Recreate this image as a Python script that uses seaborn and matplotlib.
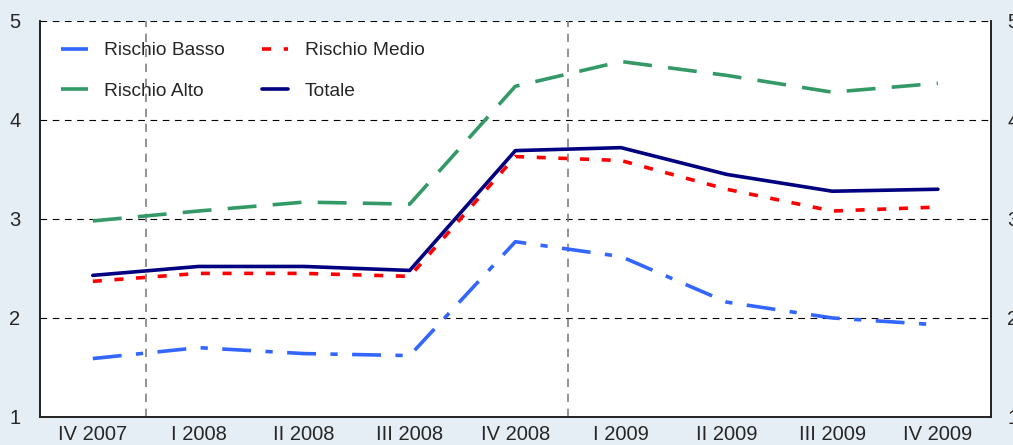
import numpy as np
import pandas as pd
import matplotlib
matplotlib.use("Agg")
import matplotlib.pyplot as plt
import seaborn as sns

# Dati
trimestri = ["IV 2007", "I 2008", "II 2008", "III 2008", "IV 2008",
             "I 2009", "II 2009", "III 2009", "IV 2009"]
rischio_basso = [1.59, 1.70, 1.64, 1.62, 2.77, 2.62, 2.16, 2.00, 1.93]
rischio_medio = [2.37, 2.45, 2.45, 2.42, 3.63, 3.59, 3.30, 3.08, 3.12]
rischio_alto = [2.98, 3.08, 3.17, 3.15, 4.34, 4.59, 4.45, 4.28, 4.37]
totale = [2.43, 2.52, 2.52, 2.48, 3.69, 3.72, 3.45, 3.28, 3.30]

sns.set_style("white")
plt.rcParams['font.family'] = ['Liberation Sans', 'DejaVu Sans']

bg = "#E6EEF5"
fig = plt.figure(figsize=(10.13, 4.45), dpi=100, facecolor=bg)
ax = fig.add_axes([0.0395, 0.063, 0.9385, 0.89])
ax.set_facecolor("white")

x = np.arange(len(trimestri))
serie = [
    ("Rischio Basso", rischio_basso, "#3366FF", (8, 4, 2, 4)),
    ("Rischio Medio", rischio_medio, "#FF0000", (2.5, 3.5)),
    ("Rischio Alto", rischio_alto, "#339966", (8, 4.5)),
    ("Totale", totale, "#000080", None),
]
linee = {}
for nome, valori, colore, dash in serie:
    df = pd.DataFrame({"x": x, "y": valori})
    sns.lineplot(data=df, x="x", y="y", ax=ax, color=colore, linewidth=2.6,
                 label=nome)
    if dash is not None:
        ax.lines[-1].set_dashes(dash)
    linee[nome] = ax.lines[-1]

# griglia orizzontale e linee verticali
for yv in [2, 3, 4, 5]:
    ax.axhline(yv, color="black", linewidth=0.8, dashes=(6, 5), zorder=0)
for xv in [0.5, 4.5]:
    ax.axvline(xv, color="#808080", linewidth=1.2, dashes=(5, 4), zorder=0)

ax.set_xlim(-0.5, 8.5)
ax.set_ylim(1, 5)
ax.set_xticks(x)
ax.set_xticklabels(trimestri, fontsize=14.5)
ax.set_xticks(np.arange(0.5, 8.5, 1), minor=True)
ax.tick_params(axis="x", which="major", length=0, pad=6)
ax.tick_params(axis="x", which="minor", direction="in", length=3, color="#555555")
ax.set_yticks([1, 2, 3, 4, 5])
ax.tick_params(axis="y", labelsize=14.5, length=0, pad=14)
ax.set_xlabel("")
ax.set_ylabel("")

ax2 = ax.twinx()
ax2.set_ylim(1, 5)
ax2.set_yticks([1, 2, 3, 4, 5])
ax2.tick_params(axis="y", labelsize=14.5, length=0, pad=12)

for a in (ax, ax2):
    for lato in ["left", "right", "bottom"]:
        a.spines[lato].set_color("#222222")
        a.spines[lato].set_linewidth(1.2)
    a.spines["top"].set_visible(False)

# ordine per colonne: Basso/Alto a sinistra, Medio/Totale a destra
ordine = ["Rischio Basso", "Rischio Alto", "Rischio Medio", "Totale"]
ax.legend([linee[n] for n in ordine], ordine, loc="upper left", ncol=2,
          frameon=False, fontsize=13.8, handlelength=1.4, handletextpad=0.85,
          columnspacing=1.9, labelspacing=1.2,
          bbox_to_anchor=(0.0, 1.0), borderaxespad=0.7)

fig.savefig("out.png", dpi=100, facecolor=bg)
